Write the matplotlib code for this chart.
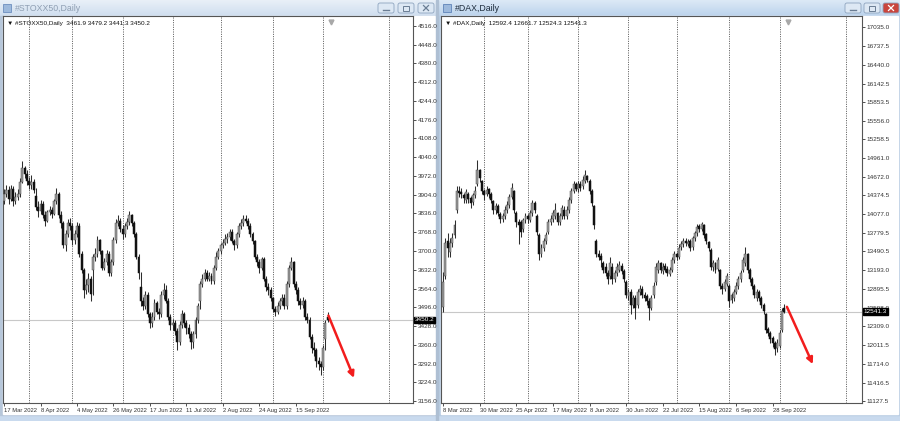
import numpy as np
import matplotlib
matplotlib.use("Agg")
import matplotlib.pyplot as plt
from matplotlib.patches import Rectangle, FancyBboxPatch
from matplotlib.colors import LinearSegmentedColormap
from matplotlib.transforms import blended_transform_factory as blend

plt.rcParams['font.family'] = ['Liberation Sans', 'DejaVu Sans']

# ---------------- STOXX50 daily (17 Mar 2022 .. 5 Oct 2022) ----------------
sx_open = [3880,3905,3920,3890,3925,3880,3895,3905,3950,4000,
           3980,3955,3940,3950,3900,3860,3845,3870,3830,3810,
           3840,3850,3835,3880,3905,3830,3800,3720,3760,3800,
           3790,3740,3760,3790,3690,3630,3560,3575,3600,3630,
           3680,3690,3740,3700,3640,3660,3690,3620,3660,3740,
           3800,3810,3780,3760,3790,3805,3830,3800,3760,3680,
           3570,3520,3500,3540,3470,3440,3460,3510,3480,3470,
           3540,3560,3520,3460,3430,3440,3410,3370,3430,3470,
           3440,3420,3400,3370,3400,3450,3520,3580,3600,3620,
           3600,3610,3590,3640,3680,3700,3720,3730,3745,3750,
           3770,3735,3720,3760,3790,3800,3815,3810,3790,3760,
           3735,3680,3660,3640,3670,3600,3570,3560,3530,3490,
           3480,3500,3520,3530,3500,3580,3640,3660,3580,3560,
           3520,3505,3520,3460,3450,3390,3350,3340,3300,3290,
           3280,3380,3461.9]
sx_high = [3925,3940,3935,3940,3935,3915,3925,3965,4025,4010,
           3995,3970,3975,3960,3930,3880,3885,3880,3845,3850,
           3865,3860,3890,3930,3915,3845,3810,3775,3815,3820,
           3800,3775,3805,3800,3700,3640,3600,3620,3610,3690,
           3710,3755,3745,3705,3675,3705,3700,3670,3750,3815,
           3830,3820,3795,3800,3820,3845,3835,3810,3770,3690,
           3625,3535,3555,3550,3480,3480,3525,3520,3495,3555,
           3585,3575,3530,3470,3455,3450,3420,3445,3485,3480,
           3450,3435,3410,3410,3460,3510,3590,3615,3635,3630,
           3625,3620,3650,3695,3710,3730,3745,3760,3765,3780,
           3780,3745,3770,3800,3815,3830,3830,3820,3800,3770,
           3740,3690,3670,3680,3680,3610,3585,3570,3535,3500,
           3515,3530,3545,3545,3590,3650,3680,3665,3590,3570,
           3530,3535,3525,3475,3460,3400,3370,3350,3315,3300,
           3360,3450,3479.2]
sx_low = [3870,3895,3870,3880,3865,3870,3885,3895,3945,3965,
          3940,3925,3925,3910,3850,3825,3835,3820,3790,3805,
          3830,3820,3830,3870,3820,3785,3710,3700,3750,3775,
          3720,3725,3750,3680,3620,3530,3545,3550,3520,3540,
          3665,3680,3690,3630,3630,3650,3610,3610,3650,3730,
          3790,3770,3745,3750,3780,3795,3790,3750,3670,3600,
          3500,3485,3490,3460,3420,3425,3450,3470,3455,3460,
          3525,3510,3450,3415,3415,3395,3340,3360,3420,3425,
          3400,3385,3345,3350,3385,3440,3490,3570,3590,3590,
          3590,3580,3580,3630,3670,3690,3710,3720,3730,3740,
          3730,3705,3710,3750,3780,3790,3800,3780,3750,3725,
          3670,3645,3620,3630,3590,3555,3540,3520,3480,3465,
          3470,3490,3505,3490,3490,3570,3630,3570,3545,3505,
          3490,3495,3450,3440,3380,3330,3320,3280,3270,3250,
          3270,3340,3441.3]
sx_close = [3905,3920,3890,3925,3880,3895,3905,3950,4000,3980,
            3955,3940,3950,3920,3860,3845,3870,3830,3810,3840,
            3850,3835,3880,3905,3830,3800,3720,3760,3800,3790,
            3740,3760,3790,3690,3630,3560,3575,3600,3545,3680,
            3690,3740,3700,3640,3660,3690,3620,3660,3740,3800,
            3810,3780,3760,3790,3805,3830,3800,3760,3680,3620,
            3520,3500,3540,3470,3440,3460,3510,3480,3470,3540,
            3560,3520,3460,3430,3440,3410,3370,3430,3470,3440,
            3420,3400,3370,3400,3450,3500,3580,3600,3620,3600,
            3610,3590,3640,3680,3700,3720,3730,3745,3750,3770,
            3735,3720,3760,3790,3800,3815,3810,3790,3760,3735,
            3680,3660,3640,3670,3600,3570,3560,3530,3490,3480,
            3500,3520,3530,3500,3580,3640,3660,3580,3560,3520,
            3505,3520,3460,3450,3390,3350,3340,3300,3290,3280,
            3350,3440,3450.2]
sx_yticks = [4516.0,4448.0,4380.0,4312.0,4244.0,4176.0,4108.0,4040.0,3972.0,3904.0,
             3836.0,3768.0,3700.0,3632.0,3564.0,3496.0,3428.0,3360.0,3292.0,3224.0,3156.0]
sx_xtick_idx = [0,16,32,48,64,80,96,112,128]
sx_xtick_lbl = ["17 Mar 2022","8 Apr 2022","4 May 2022","26 May 2022","17 Jun 2022",
                "11 Jul 2022","2 Aug 2022","24 Aug 2022","15 Sep 2022"]
sx_month_sep = [11,30,52,74,95,118,140,169]

# ---------------- DAX daily (8 Mar 2022 .. 5 Oct 2022) ----------------
dax_open = [12620,13100,13650,13480,13620,13750,14150,14450,14430,14380,
            14300,14400,14330,14270,14380,14560,14770,14600,14450,14400,
            14480,14400,14290,14150,14200,14080,14000,14050,14140,14230,
            14350,14450,14100,13960,13950,13850,13980,14050,13990,14100,
            14250,14050,13750,13450,13550,13650,13800,13950,14000,14050,
            14100,13950,14050,14150,14050,14150,14300,14450,14550,14480,
            14560,14520,14600,14680,14600,14450,14200,13650,13450,13420,
            13300,13250,13150,13100,13250,13050,13150,13200,13260,13180,
            13000,12780,12850,12650,12750,12650,12850,12900,12800,12780,
            12700,12600,12800,13000,13200,13300,13180,13260,13220,13140,
            13200,13350,13450,13400,13560,13600,13660,13610,13650,13560,
            13700,13780,13890,13850,13900,13760,13640,13520,13250,13300,
            13220,13200,12950,12900,12980,12950,12720,12760,12850,12950,
            13050,13200,13300,13450,13200,13050,12950,12760,12850,12750,
            12650,12500,12260,12200,12120,12050,11960,12000,12250,12592.4]
dax_high = [13160,13700,13780,13700,13780,13980,14520,14530,14500,14420,
            14480,14430,14360,14420,14520,14930,14800,14620,14480,14520,
            14500,14430,14310,14260,14240,14120,14100,14200,14280,14400,
            14570,14460,14130,14000,13980,14020,14100,14080,14150,14300,
            14280,14080,13780,13600,13700,13800,14000,14060,14150,14250,
            14120,14100,14220,14200,14200,14350,14500,14600,14580,14600,
            14600,14680,14780,14700,14640,14480,14230,13680,13520,13460,
            13340,13300,13200,13400,13300,13200,13300,13340,13300,13220,
            13040,12900,12900,12800,12800,12900,12960,12950,12850,12820,
            12750,12800,13000,13300,13360,13320,13300,13300,13260,13250,
            13400,13500,13480,13600,13650,13700,13700,13680,13680,13740,
            13820,13920,13930,13960,13920,13780,13660,13540,13360,13330,
            13400,13220,12990,13050,13150,12980,12840,12900,13000,13100,
            13200,13400,13560,13470,13230,13090,12980,12900,12880,12790,
            12680,12520,12300,12230,12150,12080,12100,12250,12600,12661.7]
dax_low = [12540,13050,13400,13400,13560,13700,14100,14350,14330,14250,
           14250,14260,14180,14230,14330,14520,14580,14400,14300,14360,
           14340,14250,14080,14080,14050,13940,13960,14010,14100,14180,
           14320,14100,13880,13600,13720,13800,13940,13940,13950,14050,
           14100,13750,13360,13400,13500,13600,13760,13900,13960,14000,
           13900,13900,14000,14000,14000,14100,14260,14420,14440,14430,
           14450,14480,14570,14580,14400,14200,13850,13400,13350,13250,
           13150,13100,12980,13060,12980,13000,13100,13160,13140,13000,
           12750,12720,12500,12600,12430,12600,12800,12760,12700,12640,
           12400,12560,12760,12960,13150,13150,13140,13160,13100,13100,
           13160,13300,13350,13370,13520,13560,13580,13580,13500,13520,
           13660,13740,13800,13820,13700,13600,13500,13200,13180,13150,
           13180,12900,12820,12860,12950,12620,12680,12700,12820,12900,
           13000,13160,13260,13150,13000,12900,12750,12700,12700,12600,
           12500,12200,12150,12040,11980,11850,11900,11960,12220,12524.3]
dax_close = [13000,13620,13550,13620,13700,13900,14450,14420,14400,14330,
             14430,14320,14250,14380,14450,14780,14650,14450,14380,14460,
             14400,14300,14150,14200,14100,14000,14050,14150,14230,14350,
             14500,14150,13950,13900,13800,13980,14050,14000,14100,14250,
             14150,13800,13450,13550,13650,13750,13950,14000,14100,14150,
             13950,14050,14180,14050,14150,14300,14450,14550,14480,14560,
             14500,14620,14700,14620,14450,14250,13900,13450,13400,13350,
             13200,13150,13050,13300,13050,13150,13250,13280,13180,13050,
             12800,12850,12650,12750,12600,12850,12900,12800,12750,12700,
             12600,12750,12950,13250,13300,13200,13250,13200,13150,13200,
             13350,13450,13400,13550,13600,13650,13620,13640,13550,13700,
             13780,13880,13850,13920,13750,13650,13550,13250,13300,13200,
             13350,12950,12900,13000,13100,12700,12800,12850,12950,13050,
             13150,13350,13450,13200,13050,12950,12800,12850,12750,12650,
             12550,12250,12200,12100,12050,11950,12050,12200,12550,12541.3]
dax_yticks = [17035.0,16737.5,16440.0,16142.5,15853.5,15556.0,15258.5,14961.0,14672.0,
              14374.5,14077.0,13779.5,13490.5,13193.0,12895.5,12598.0,12309.0,12011.5,
              11714.0,11416.5,11127.5]
dax_xtick_idx = [0,16,32,48,64,80,96,112,128,144]
dax_xtick_lbl = ["8 Mar 2022","30 Mar 2022","25 Apr 2022","17 May 2022","8 Jun 2022",
                 "30 Jun 2022","22 Jul 2022","15 Aug 2022","6 Sep 2022","28 Sep 2022"]
dax_month_sep = [18,37,59,81,102,125,147,176]

# forecast arrows (bar index, price)
sx_arrow = ((142.3, 3466), (153.5, 3240))
dax_arrow = ((150.2, 12615), (161.5, 11710))

W, H = 900, 421
fig = plt.figure(figsize=(W / 100, H / 100), dpi=100)

# ---------------- window chrome ----------------
bg = fig.add_axes([0, 0, 1, 1])
bg.add_patch(Rectangle((0, 0), W, H, color='#c9daee', zorder=0))
grad = np.linspace(0, 1, 32).reshape(-1, 1)
cm_in = LinearSegmentedColormap.from_list('in', ['#e9f0f8', '#cfdeef'])
cm_act = LinearSegmentedColormap.from_list('act', ['#dce9f6', '#bcd3ec'])
bg.imshow(grad, extent=(0, 437, 16, 0), cmap=cm_in, aspect='auto', zorder=1)
bg.imshow(grad, extent=(437, 900, 16, 0), cmap=cm_act, aspect='auto', zorder=1)
bg.set_xlim(0, W); bg.set_ylim(H, 0); bg.axis('off')
bg.add_patch(Rectangle((0, 16), 437, 399, color='#b7c7da', zorder=2))
bg.add_patch(Rectangle((3, 16), 432, 398, color='white', zorder=3))
bg.add_patch(Rectangle((438, 16), 462, 399, color='#b9cde3', zorder=2))
bg.add_patch(Rectangle((441, 16), 457, 398, color='white', zorder=3))
bg.add_patch(Rectangle((436, 0), 2, H, color='#aebfd3', zorder=4))

bg.text(15, 8.5, "#STOXX50,Daily", fontsize=6.3, color='#8f9fb3', va='center', zorder=5)
bg.text(455, 8.5, "#DAX,Daily", fontsize=6.3, color='#1d2b3b', va='center', zorder=5)
bg.add_patch(Rectangle((3, 4), 8, 8, facecolor='#9db9dc', edgecolor='#6d8fbf', lw=0.6, zorder=5))
bg.add_patch(Rectangle((443, 4), 8, 8, facecolor='#9db9dc', edgecolor='#5f84b8', lw=0.6, zorder=5))


def buttons(xs, close_red):
    for i, x0 in enumerate(xs):
        face = '#c9453d' if (close_red and i == 2) else '#dde8f4'
        bg.add_patch(FancyBboxPatch((x0, 3), 16, 10, boxstyle="round,pad=0,rounding_size=2",
                                    facecolor=face, edgecolor='#8ea4bf', lw=0.6, zorder=5))
        cx = x0 + 8
        col = 'white' if (close_red and i == 2) else '#6a7d94'
        if i == 0:
            bg.plot([cx - 3, cx + 3], [10, 10], color=col, lw=1.0, zorder=6)
        elif i == 1:
            bg.add_patch(Rectangle((cx - 3, 5.5), 6, 5, fill=False, edgecolor=col, lw=0.7, zorder=6))
        else:
            bg.plot([cx - 2.5, cx + 2.5], [5.5, 10.5], color=col, lw=0.9, zorder=6)
            bg.plot([cx - 2.5, cx + 2.5], [10.5, 5.5], color=col, lw=0.9, zorder=6)


buttons([378, 398, 418], False)
buttons([845, 864, 883], True)


# ---------------- charts ----------------
def draw_chart(ax, o, h, l, c, yticks, ylim, xlim, xidx, xlbl, seps, name, arrow):
    o, h, l, c = map(np.asarray, (o, h, l, c))
    x = np.arange(len(o))
    up = c >= o
    ax.vlines(x, l, h, color='#2e2e2e', lw=0.75, zorder=2)
    lo = np.minimum(o, c)
    hh = np.maximum(np.abs(c - o), (ylim[1] - ylim[0]) * 0.002)
    ax.bar(x[up], hh[up], bottom=lo[up], width=0.85, color='#9c9c9c',
           edgecolor='#4a4a4a', lw=0.35, zorder=3)
    ax.bar(x[~up], hh[~up], bottom=lo[~up], width=0.85, color='#111111',
           edgecolor='#111111', lw=0.35, zorder=3)
    for s in seps:
        ax.axvline(s, color='#3a3a3a', lw=0.6, ls=(0, (1.2, 1.6)), zorder=1)
    ax.axhline(c[-1], color='#c8c8c8', lw=0.8, zorder=1)
    ax.set_xlim(*xlim)
    ax.set_ylim(*ylim)
    ax.yaxis.tick_right()
    ax.set_yticks(yticks)
    ax.set_yticklabels([f"{v:.1f}" for v in yticks])
    ax.set_xticks(xidx)
    ax.set_xticklabels(xlbl, ha='left')
    ax.tick_params(axis='y', length=2, width=0.6, pad=1.5, labelsize=4.6, colors='#333333')
    ax.tick_params(axis='x', length=2, width=0.6, pad=1.5, labelsize=4.2, colors='#333333')
    for sp in ax.spines.values():
        sp.set_color('#555555'); sp.set_linewidth(0.8)
    ax.set_facecolor('white')
    ax.text(1.004, c[-1], f"{c[-1]:.1f}", transform=blend(ax.transAxes, ax.transData),
            fontsize=4.6, color='white', va='center', ha='left', zorder=10, clip_on=False,
            bbox=dict(boxstyle='square,pad=0.1', facecolor='black', edgecolor='black'))
    ax.text(0.01, 0.988, f"\u25bc {name}  {o[-1]:.1f} {h[-1]:.1f} {l[-1]:.1f} {c[-1]:.1f}",
            transform=ax.transAxes, fontsize=4.6, color='#111111', va='top', ha='left', zorder=6)
    ax.plot([len(o) + 0.5], [0.985], marker='v', markersize=3.5, color='#a8a8a8',
            transform=blend(ax.transData, ax.transAxes), clip_on=False, zorder=6)
    ax.annotate('', xy=arrow[1], xytext=arrow[0],
                arrowprops=dict(arrowstyle='-|>', color='#f21d1d', lw=1.8,
                                mutation_scale=9, shrinkA=0, shrinkB=0), zorder=8)


ax1 = fig.add_axes([3 / W, 1 - 403 / H, 410 / W, 387 / H])
draw_chart(ax1, sx_open, sx_high, sx_low, sx_close, sx_yticks, (3149, 4552), (-0.45, 179.4),
           sx_xtick_idx, sx_xtick_lbl, sx_month_sep, "#STOXX50,Daily", sx_arrow)

ax2 = fig.add_axes([441 / W, 1 - 403 / H, 421 / W, 387 / H])
draw_chart(ax2, dax_open, dax_high, dax_low, dax_close, dax_yticks, (11096, 17209), (-0.9, 183.0),
           dax_xtick_idx, dax_xtick_lbl, dax_month_sep, "#DAX,Daily", dax_arrow)

fig.savefig("out.png", dpi=100)
